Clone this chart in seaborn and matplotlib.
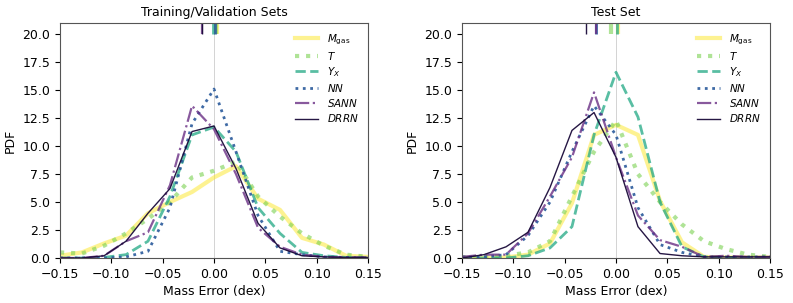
import numpy as np
import pandas as pd
import matplotlib
matplotlib.use("Agg")
import matplotlib.pyplot as plt
import seaborn as sns


# =========================
# Data
# =========================
bin_centers = [-0.15, -0.1286, -0.1071, -0.0857, -0.0643, -0.0429, -0.0214,
               0.0, 0.0214, 0.0429, 0.0643, 0.0857, 0.1071, 0.1286, 0.15]

models = ["Mgas", "T", "Yx", "NN", "SANN", "DRRN"]
labels = [r"$M_{\rm gas}$", r"$T$", r"$Y_X$", r"$NN$", r"$SANN$", r"$DRRN$"]

train_mgas = [0.2, 0.5, 1.3, 2.0, 4.0, 5.0, 5.9, 7.2, 8.2, 5.3, 4.3, 1.8, 1.2, 0.2, 0.1]
train_t    = [0.5, 0.4, 1.1, 2.2, 3.5, 5.0, 7.2, 7.8, 8.6, 5.5, 3.7, 2.2, 1.1, 0.3, 0.1]
train_yx   = [0.0, 0.0, 0.05, 0.3, 1.5, 5.5, 11.0, 11.7, 9.5, 4.5, 2.2, 0.5, 0.2, 0.05, 0.0]
train_nn   = [0.0, 0.0, 0.0, 0.1, 0.6, 4.5, 12.0, 15.1, 9.5, 3.8, 0.6, 0.3, 0.1, 0.05, 0.0]
train_sann = [0.0, 0.0, 0.2, 1.5, 2.3, 6.5, 13.6, 11.5, 7.5, 2.7, 1.0, 0.3, 0.1, 0.05, 0.05]
train_drrn = [0.0, 0.0, 0.2, 1.5, 4.0, 6.2, 11.3, 11.8, 8.0, 3.1, 0.9, 0.2, 0.1, 0.05, 0.05]

test_mgas = [0.0, 0.0, 0.05, 0.3, 1.3, 4.9, 11.0, 11.9, 11.0, 5.1, 1.4, 0.1, 0.05, 0.05, 0.05]
test_t    = [0.05, 0.1, 0.2, 0.5, 1.5, 5.5, 9.5, 12.3, 7.5, 5.0, 3.0, 1.5, 0.8, 0.3, 0.1]
test_yx   = [0.0, 0.0, 0.0, 0.2, 0.9, 2.8, 11.0, 16.6, 12.6, 5.0, 1.0, 0.1, 0.05, 0.05, 0.0]
test_nn   = [0.1, 0.1, 0.3, 2.0, 5.0, 9.5, 13.6, 11.0, 4.5, 1.2, 0.5, 0.1, 0.1, 0.1, 0.1]
test_sann = [0.1, 0.3, 0.3, 2.2, 5.5, 9.0, 14.8, 9.0, 3.8, 1.6, 1.0, 0.1, 0.2, 0.1, 0.1]
test_drrn = [0.0, 0.3, 1.0, 2.3, 6.3, 11.4, 13.0, 9.0, 2.8, 0.4, 0.2, 0.1, 0.1, 0.1, 0.1]

# median markers at the top of each panel
train_medians = [0.003, 0.002, -0.001, 0.001, -0.012, -0.012]
test_medians = [0.002, -0.005, 0.001, -0.019, -0.019, -0.029]

train_curves = [train_mgas, train_t, train_yx, train_nn, train_sann, train_drrn]
test_curves = [test_mgas, test_t, test_yx, test_nn, test_sann, test_drrn]


# =========================
# Styles
# =========================
colors = ["#fde725", "#7ad151", "#22a884", "#2a5a9b", "#6a2f85", "#1a0a3a"]
linestyles = ["-", ":", "--", ":", "-.", "-"]
linewidths = [3.0, 3.0, 2.0, 2.0, 1.6, 1.0]
alphas = [0.5, 0.6, 0.75, 0.9, 0.8, 0.95]

plt.rcParams["font.size"] = 9

fig = plt.figure(figsize=(7.93, 3.03), dpi=100)
ax_train = fig.add_axes([60 / 793, 45 / 303, 308 / 793, 235 / 303])
ax_test = fig.add_axes([462 / 793, 45 / 303, 308 / 793, 235 / 303])


def draw_panel(ax, curves, medians, title):
    ax.axvline(0, color="lightgray", lw=0.7, zorder=0)
    for name, label, y, c, ls, lw, a in zip(models, labels, curves, colors,
                                            linestyles, linewidths, alphas):
        df = pd.DataFrame({"x": bin_centers, "pdf": y})
        sns.lineplot(data=df, x="x", y="pdf", ax=ax, color=c, linestyle=ls,
                     linewidth=lw, alpha=a, label=label)
    for m, c, lw, a in zip(medians, colors, linewidths, alphas):
        ax.vlines(m, 20, 21, color=c, lw=lw, alpha=a)
    ax.set_xlim(-0.15, 0.15)
    ax.set_ylim(0, 21)
    ax.set_xticks([-0.15, -0.10, -0.05, 0.0, 0.05, 0.10, 0.15])
    ax.set_yticks(np.arange(0, 21, 2.5))
    ax.set_xlabel("Mass Error (dex)", labelpad=3)
    ax.set_ylabel("PDF")
    ax.set_title(title, fontsize=9, pad=5)
    for sp in ax.spines.values():
        sp.set_color("#555555")
    ax.legend(loc="upper right", frameon=False, fontsize=7.5,
              handlelength=2.2, labelspacing=0.3)


draw_panel(ax_train, train_curves, train_medians, "Training/Validation Sets")
draw_panel(ax_test, test_curves, test_medians, "Test Set")

fig.savefig("out.png", dpi=100)
